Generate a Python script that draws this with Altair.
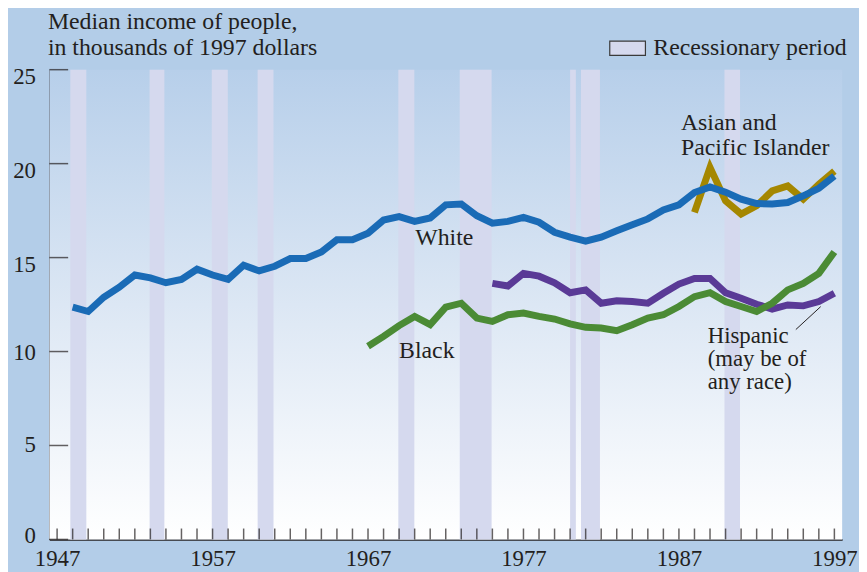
import altair as alt
import pandas as pd

# ---------------- data ----------------
white_years = list(range(1948, 1998))
white_vals = [12.36, 12.13, 12.89, 13.42, 14.07, 13.92, 13.66, 13.84, 14.38, 14.07,
              13.84, 14.59, 14.29, 14.54, 14.95, 14.95, 15.30, 15.95, 15.95, 16.30,
              17.00, 17.18, 16.93, 17.11, 17.81, 17.85, 17.23, 16.83, 16.93, 17.14,
              16.88, 16.35, 16.09, 15.88, 16.09, 16.43, 16.75, 17.06, 17.53, 17.81,
              18.46, 18.76, 18.48, 18.11, 17.88, 17.85, 17.93, 18.29, 18.69, 19.34]

black_years = list(range(1967, 1998))
black_vals = [10.28, 10.81, 11.38, 11.87, 11.43, 12.36, 12.57, 11.78, 11.60, 11.96,
              12.05, 11.87, 11.73, 11.47, 11.29, 11.25, 11.11, 11.43, 11.78, 11.96,
              12.40, 12.92, 13.13, 12.66, 12.40, 12.13, 12.57, 13.28, 13.63, 14.16, 15.30]

hisp_years = list(range(1975, 1998))
hisp_vals = [13.63, 13.49, 14.16, 14.01, 13.66, 13.13, 13.28, 12.57, 12.70, 12.66,
             12.57, 13.10, 13.59, 13.89, 13.89, 13.13, 12.84, 12.52, 12.26, 12.48,
             12.43, 12.66, 13.10]

asian_years = list(range(1988, 1998))
asian_vals = [17.41, 19.80, 18.02, 17.32, 17.76, 18.55, 18.81, 18.11, 18.90, 19.60]

rec_start = [1947.85, 1952.95, 1956.95, 1959.90, 1968.95, 1972.90, 1980.00, 1980.70, 1989.93]
rec_end = [1948.88, 1953.90, 1957.98, 1960.92, 1969.98, 1974.95, 1980.37, 1981.92, 1990.93]

x_ticks = list(range(1947, 1998))
x_labels = [1947, 1957, 1967, 1977, 1987, 1997]
y_ticks = [0, 5, 10, 15, 20, 25]

# annotation texts (position in data units); "\n" separates lines
ann_text = ["Median income of people,\nin thousands of 1997 dollars",
            "White", "Black", "Asian and\nPacific Islander",
            "Hispanic\n(may be of\nany race)"]
ann_x = [1946.41, 1970.04, 1969.0, 1987.13, 1988.85]
ann_y = [27.16, 15.69, 9.64, 21.80, 10.45]
ann_lh = [26, 24, 24, 25, 23]
ann_fs = [24, 24, 24, 24, 23]

leader_x = [1994.52]
leader_y = [11.17]
leader_x2 = [1996.12]
leader_y2 = [12.39]

FONT = "Liberation Serif"
INK = "#231f20"

xs = alt.Scale(domain=[1946.5, 1997.5], nice=False, zero=False)
ys = alt.Scale(domain=[0, 25], nice=False, zero=True)

xaxis = alt.Axis(values=x_labels, format="d", title=None, ticks=False, tickSize=0,
                 grid=False, domainColor=INK, domainWidth=1.5,
                 labelFont=FONT, labelFontSize=23, labelColor=INK,
                 labelBaseline="alphabetic", labelPadding=26, labelFlush=False,
                 labelOverlap=False)
yaxis = alt.Axis(values=y_ticks, title=None, ticks=False, tickSize=0, grid=False,
                 domainColor=INK, domainWidth=1.5,
                 labelFont=FONT, labelFontSize=23, labelColor=INK,
                 labelBaseline="alphabetic", labelPadding=14,
                 labelOffset={"condition": [
                     {"test": "datum.value >= 15", "value": 14},
                     {"test": "datum.value == 10", "value": 8},
                     {"test": "datum.value == 5", "value": 6.5}],
                     "value": 3.5})

# background gradient of the plot panel
bg_df = pd.DataFrame({"x0": [1946.5], "x1": [1997.5]})
bg = alt.Chart(bg_df).mark_rect(
    fill=alt.Gradient(gradient="linear",
                      stops=[alt.GradientStop(color="#b7cfea", offset=0),
                             alt.GradientStop(color="#dce7f4", offset=0.5),
                             alt.GradientStop(color="#ffffff", offset=1)],
                      x1=0, x2=0, y1=0, y2=1)
).encode(x=alt.X("x0:Q", scale=xs, axis=xaxis), x2="x1:Q")

rec_df = pd.DataFrame({"start": rec_start, "end": rec_end,
                       "label": ["Recessionary period"] * len(rec_start)})
rec = alt.Chart(rec_df).mark_rect().encode(
    x=alt.X("start:Q", scale=xs, axis=xaxis), x2="end:Q",
    color=alt.Color("label:N",
                    scale=alt.Scale(domain=["Recessionary period"], range=["#d5d9ee"]),
                    legend=alt.Legend(orient="none", legendX=564.5, legendY=-40.7,
                                      title=None, padding=0,
                                      symbolType="M-1,-0.4H1V0.4H-1Z",
                                      symbolSize=1296, symbolStrokeColor="#3a3a3a",
                                      symbolStrokeWidth=1.2, symbolOpacity=1,
                                      labelFont=FONT, labelFontSize=24, labelLimit=0,
                                      labelColor=INK, labelOffset=7)),
)


def series(years, vals, color):
    df = pd.DataFrame({"year": years, "value": vals})
    return alt.Chart(df).mark_line(color=color, strokeWidth=7).encode(
        x=alt.X("year:Q", scale=xs, axis=xaxis),
        y=alt.Y("value:Q", scale=ys, axis=yaxis),
    )


hisp = series(hisp_years, hisp_vals, "#5a3a96")
black = series(black_years, black_vals, "#4b8b35")
asian = series(asian_years, asian_vals, "#a58700")
white = series(white_years, white_vals, "#1a6bb6")

xt = alt.Chart(pd.DataFrame({"year": x_ticks})).mark_tick(
    orient="vertical", size=11, thickness=1.5, color=INK, yOffset=-5.5
).encode(x=alt.X("year:Q", scale=xs, axis=xaxis),
         y=alt.YDatum(0, scale=ys, axis=yaxis))

yt = alt.Chart(pd.DataFrame({"v": y_ticks})).mark_tick(
    orient="horizontal", size=19, thickness=1.5, color=INK, xOffset=9.5
).encode(y=alt.Y("v:Q", scale=ys, axis=yaxis),
         x=alt.XDatum(1946.5, scale=xs, axis=xaxis))


def annotation(i):
    df = pd.DataFrame({"x": [ann_x[i]], "y": [ann_y[i]], "t": [ann_text[i]]})
    return alt.Chart(df).mark_text(
        align="left", baseline="alphabetic", font=FONT, fontSize=ann_fs[i], color=INK,
        lineBreak="\n", lineHeight=ann_lh[i]
    ).encode(x=alt.X("x:Q", scale=xs, axis=xaxis),
             y=alt.Y("y:Q", scale=ys, axis=yaxis), text="t:N")


anns = [annotation(i) for i in range(len(ann_text))]

lead_df = pd.DataFrame({"x": leader_x, "y": leader_y, "x2": leader_x2, "y2": leader_y2})
lead = alt.Chart(lead_df).mark_rule(color=INK, strokeWidth=1).encode(
    x=alt.X("x:Q", scale=xs, axis=xaxis), y=alt.Y("y:Q", scale=ys, axis=yaxis),
    x2="x2:Q", y2="y2:Q")

chart = alt.layer(bg, rec, hisp, black, asian, white, xt, yt, lead, *anns).properties(
    width=800, height=474,
    padding={"left": 41.7, "top": 59.7, "right": 17, "bottom": 30},
    autosize=alt.AutoSizeParams(type="none"),
    background="#b3cde8",
).configure_view(stroke=None)

chart.save("out.html", embed_options={"renderer": "svg", "actions": False})
